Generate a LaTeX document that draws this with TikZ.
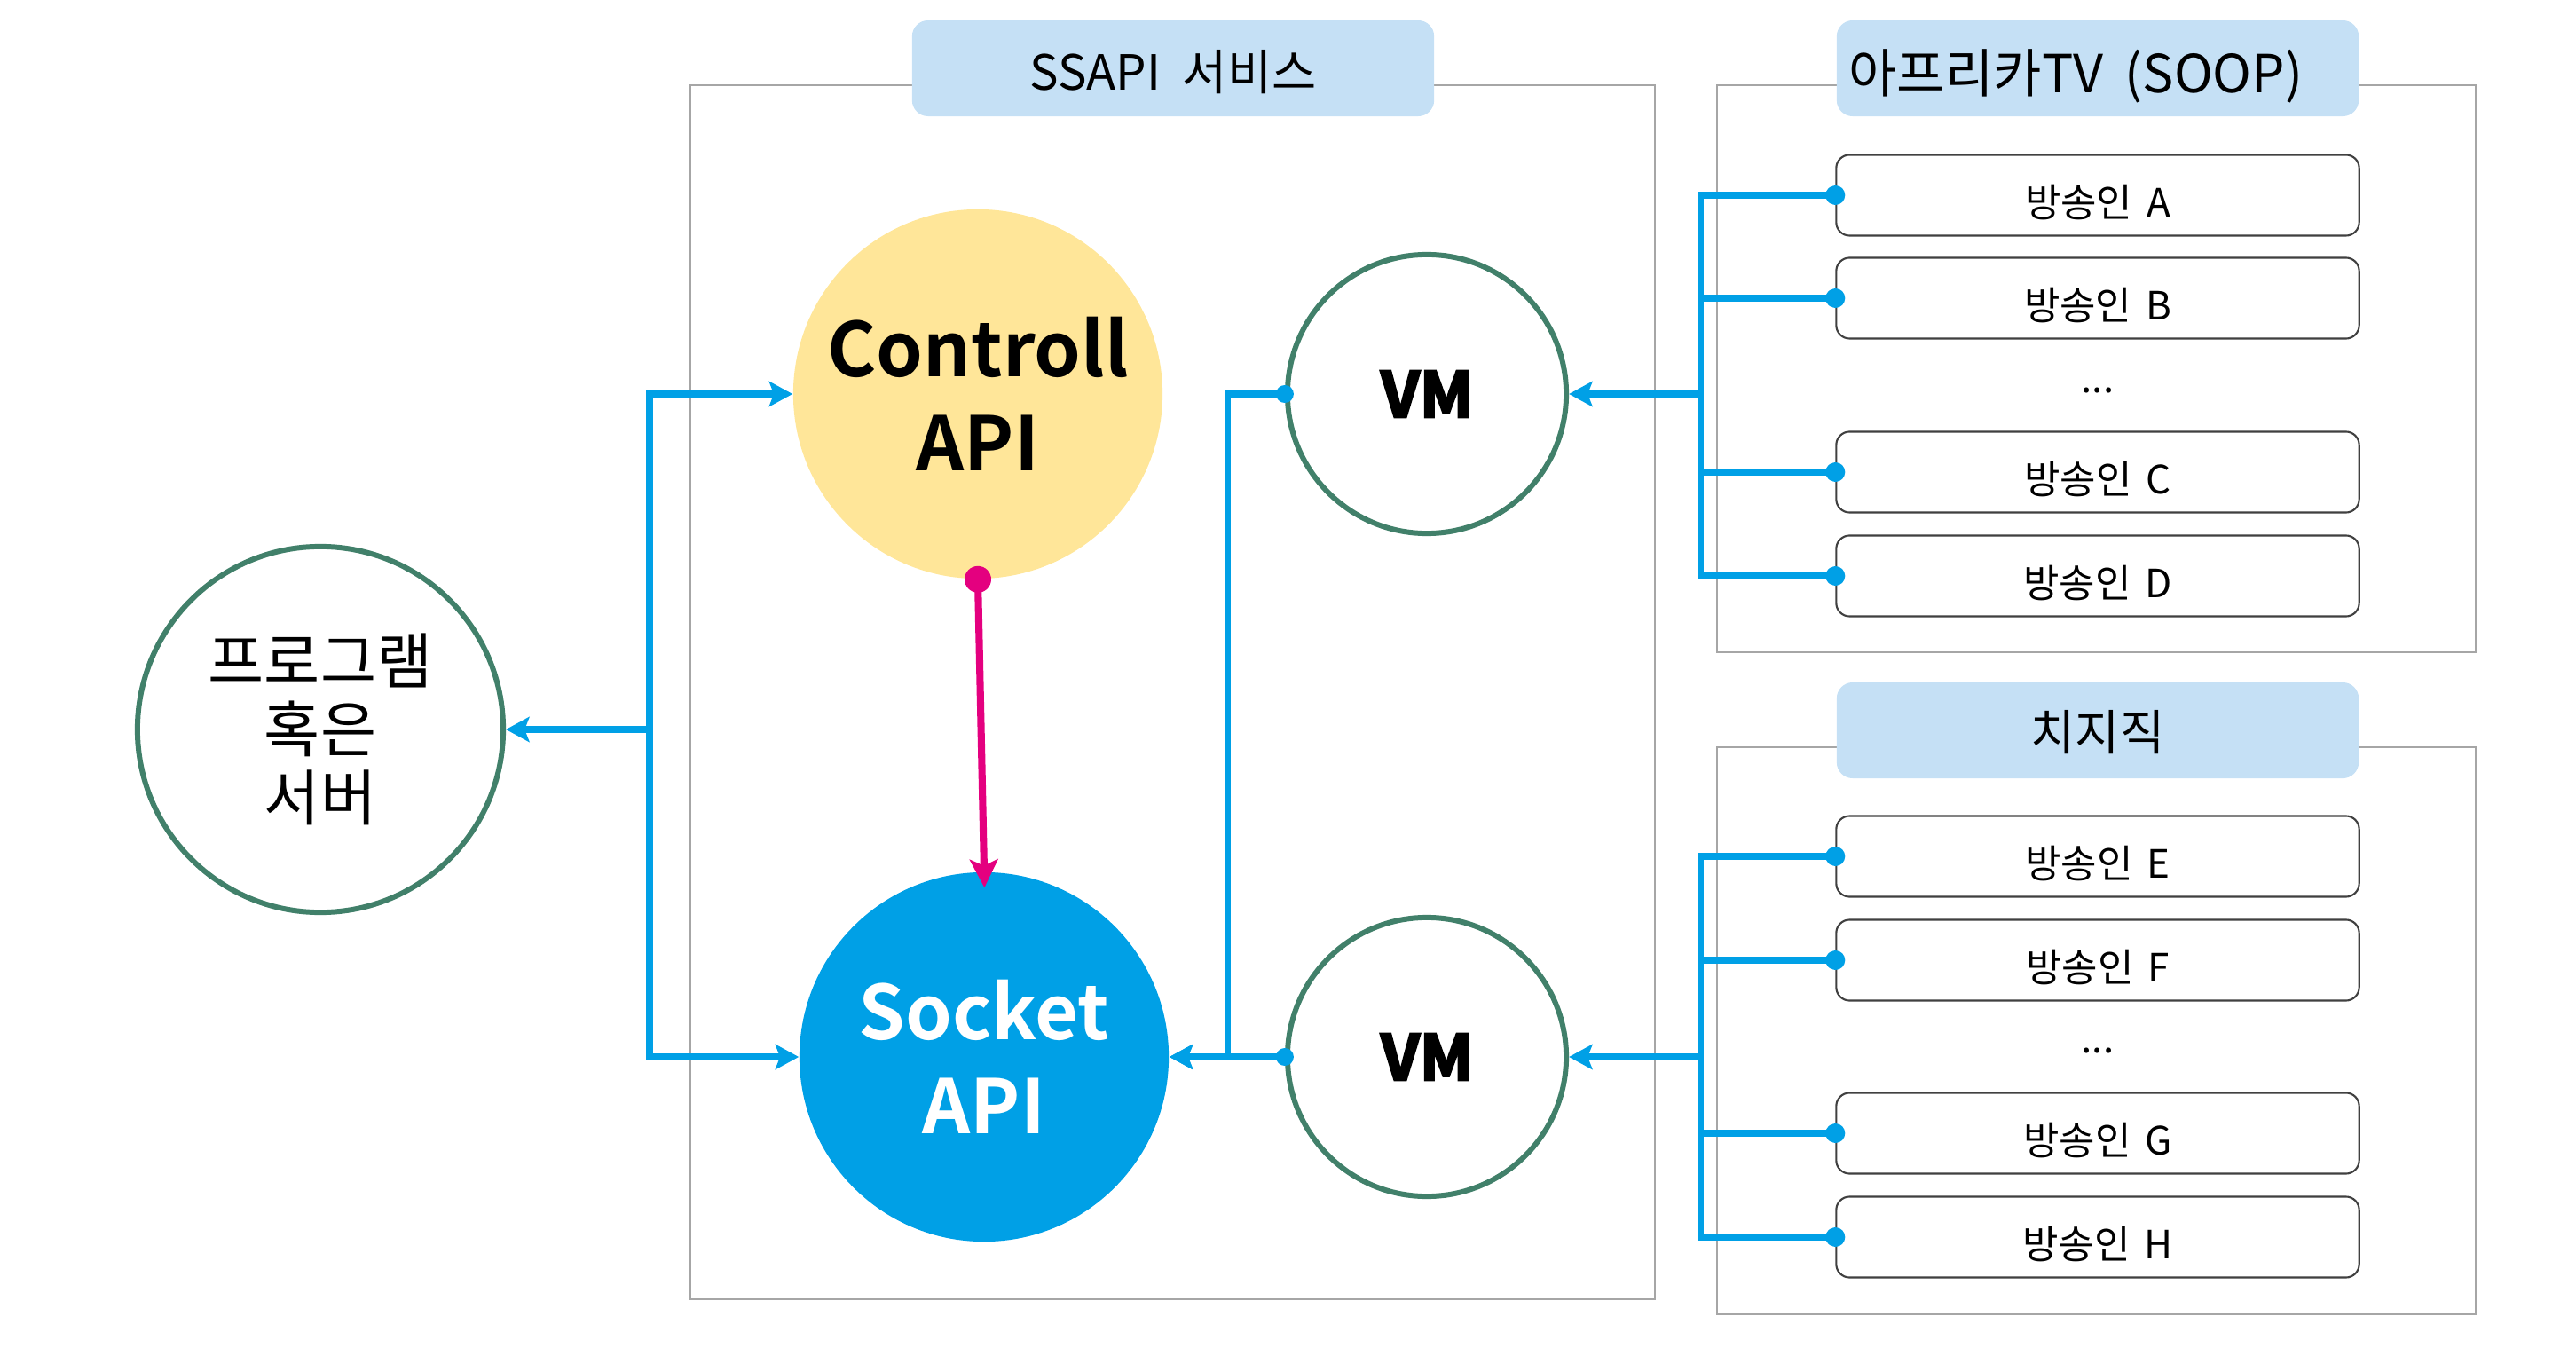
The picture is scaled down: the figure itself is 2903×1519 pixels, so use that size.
\documentclass[tikz,border=0pt]{standalone}
\usepackage{fontspec}
\setmainfont{Noto Sans CJK KR}[BoldFont={Noto Sans CJK KR Bold}]
\newfontfamily\vmfont{Noto Sans CJK KR Bold}[FakeBold=4]
\usetikzlibrary{arrows.meta}
\definecolor{ttlblue}{HTML}{C5E0F5}
\definecolor{ctrlyellow}{HTML}{FFE699}
\definecolor{conblue}{HTML}{00A0E6}
\definecolor{ringgreen}{HTML}{41806A}
\definecolor{pinkline}{HTML}{E4007F}
\newcommand{\gapA}{\hspace{7pt}}
\newcommand{\gapB}{\hspace{4.5pt}}
\tikzset{
  grp/.style={draw=black!35, line width=0.6pt},
  ttl/.style={fill=ttlblue, rounded corners=0.18cm, minimum width=5.88cm, minimum height=1.08cm, inner sep=0pt, text height=14.2pt, text depth=0pt, font=\fontsize{15.5}{18}\selectfont},
  strm/.style={draw=black!75, line width=0.6pt, fill=white, rounded corners=0.15cm, minimum width=5.89cm, minimum height=0.91cm, inner sep=0pt, text height=13.7pt, text depth=0pt, font=\fontsize{12.5}{14}\selectfont},
  ring/.style={circle, draw=ringgreen, line width=1.7pt, fill=white, inner sep=0pt},
  vmring/.style={ring, minimum size=3.14cm, font=\vmfont\fontsize{20}{22}\selectfont},
  bigc/.style={circle, inner sep=0pt, minimum size=4.16cm, align=center, font=\bfseries\fontsize{24}{30}\selectfont},
  bl/.style={draw=conblue, line width=2pt},
  arr/.style={-{Stealth[length=7.5pt,width=8pt,inset=1.5pt]}},
  dotsty/.style={font=\fontsize{12.5}{14}\selectfont}
}
\begin{document}
\begin{tikzpicture}[x=0.01cm,y=-0.01cm]
\useasboundingbox (0,0) rectangle (2903,1519);
% group frames
\draw[grp] (778,96) rectangle (1865,1464);
\draw[grp] (1935,96) rectangle (2790,735);
\draw[grp] (1935,842) rectangle (2790,1481);
% titles
\node[ttl] (tSS) at (1322,77) {SSAPI\gapA 서비스};
\node[ttl, text height=15.6pt, font=\fontsize{16.8}{18}\selectfont] (tAF) at (2364,77) {아프리카TV\gapA (SOOP)\kern14pt\relax};
\node[ttl, text height=12.8pt] (tCH) at (2364,823) {치지직};
% main circles
\node[bigc, fill=ctrlyellow] (ctrl) at (1102,444) {Controll\\API};
\node[bigc, fill=conblue, text=white] (sock) at (1109,1191) {Socket\\API};
\node[vmring] (vm1) at (1608,444) {VM};
\node[vmring] (vm2) at (1608,1191) {VM};
\node[ring, minimum size=4.12cm, align=center, font=\fontsize{19.5}{21.8}\selectfont] (prog) at (361,822) {프로그램\\혹은\\서버};
% streamers
\node[strm] (sA) at (2364,220) {방송인\gapB A};
\node[strm] (sB) at (2364,336) {방송인\gapB B};
\node[dotsty] (d1) at (2364,440) {...};
\node[strm] (sC) at (2364,532) {방송인\gapB C};
\node[strm] (sD) at (2364,649) {방송인\gapB D};
\node[strm] (sE) at (2364,965) {방송인\gapB E};
\node[strm] (sF) at (2364,1082) {방송인\gapB F};
\node[dotsty] (d2) at (2364,1184) {...};
\node[strm] (sG) at (2364,1277) {방송인\gapB G};
\node[strm] (sH) at (2364,1394) {방송인\gapB H};
% junctions
\coordinate (jL) at (732,822);
\coordinate (jM) at (1383,1191);
\coordinate (jR1) at (1916,444);
\coordinate (jR2) at (1916,1191);
% left hub
\draw[bl,arr] (jL) -- (prog.east);
\draw[bl,arr] (jL) |- (ctrl.west);
\draw[bl,arr] (jL) |- (sock.west);
% VM to socket
\draw[bl,arr] (vm1.west) -| (jM) -- (sock.east);
\draw[bl,arr] (vm2.west) -- (sock.east);
\fill[conblue] (vm1.west) circle (10);
\fill[conblue] (vm2.west) circle (10);
% right buses
\draw[bl,arr] (jR1) -- (vm1.east);
\draw[bl] (sA.west) -| (jR1 |- sD.west) -- (sD.west);
\draw[bl] (sB.west) -- (jR1 |- sB.west);
\draw[bl] (sC.west) -- (jR1 |- sC.west);
\draw[bl,arr] (jR2) -- (vm2.east);
\draw[bl] (sE.west) -| (jR2 |- sH.west) -- (sH.west);
\draw[bl] (sF.west) -- (jR2 |- sF.west);
\draw[bl] (sG.west) -- (jR2 |- sG.west);
\foreach \s in {sA,sB,sC,sD,sE,sF,sG,sH} \fill[conblue] (\s.west) circle (11);
% pink
\draw[draw=pinkline, line width=2.3pt, shorten >=-0.18cm, -{Stealth[length=9pt,width=9pt,inset=2pt]}] (ctrl.south) -- (sock.north);
\fill[pinkline] (ctrl.south) circle (15);
\end{tikzpicture}
\end{document}
